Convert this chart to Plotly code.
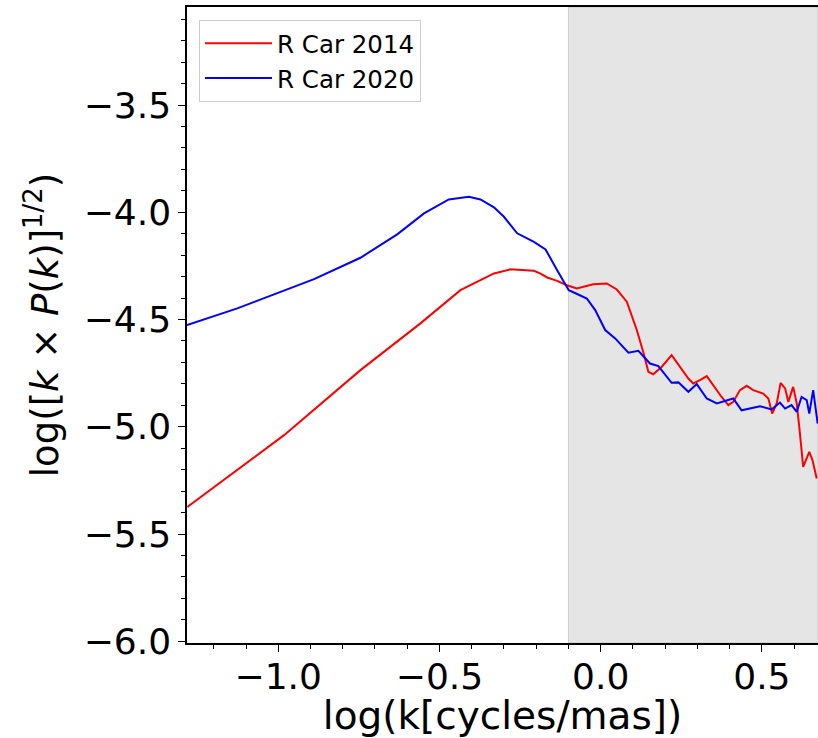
import plotly.graph_objects as go

# R Car 2014 (red)
k2014 = [-1.282, -0.982, -0.745, -0.559, -0.435, -0.331, -0.280, -0.207, -0.188, -0.166,
         -0.135, -0.105, -0.074, -0.023, 0.019, 0.050, 0.081, 0.112, 0.132, 0.148,
         0.163, 0.189, 0.220, 0.246, 0.272, 0.287, 0.308, 0.329, 0.349, 0.375,
         0.396, 0.411, 0.432, 0.453, 0.473, 0.504, 0.520, 0.532, 0.546, 0.558,
         0.572, 0.582, 0.597, 0.608, 0.618, 0.628, 0.647, 0.657, 0.670]
p2014 = [-5.374, -5.039, -4.736, -4.518, -4.363, -4.285, -4.266, -4.273, -4.285, -4.304,
         -4.320, -4.340, -4.355, -4.336, -4.332, -4.360, -4.417, -4.549, -4.651, -4.744,
         -4.755, -4.721, -4.666, -4.721, -4.775, -4.798, -4.783, -4.764, -4.806, -4.861,
         -4.899, -4.884, -4.829, -4.809, -4.829, -4.845, -4.868, -4.938, -4.891, -4.795,
         -4.821, -4.884, -4.814, -4.890, -5.031, -5.187, -5.117, -5.156, -5.241]

# R Car 2020 (blue)
k2020 = [-1.283, -1.127, -0.889, -0.745, -0.631, -0.548, -0.471, -0.409, -0.373, -0.331,
         -0.300, -0.259, -0.207, -0.171, -0.135, -0.099, -0.073, -0.043, -0.017, 0.014,
         0.045, 0.086, 0.117, 0.153, 0.179, 0.220, 0.241, 0.272, 0.298, 0.329,
         0.360, 0.411, 0.437, 0.463, 0.494, 0.530, 0.556, 0.572, 0.592, 0.608,
         0.623, 0.639, 0.647, 0.659, 0.673]
p2020 = [-4.526, -4.448, -4.312, -4.212, -4.103, -4.005, -3.940, -3.928, -3.940, -3.977,
         -4.021, -4.098, -4.138, -4.173, -4.270, -4.363, -4.381, -4.402, -4.456, -4.549,
         -4.588, -4.655, -4.646, -4.705, -4.717, -4.795, -4.793, -4.837, -4.801, -4.868,
         -4.891, -4.868, -4.923, -4.915, -4.904, -4.919, -4.887, -4.915, -4.899, -4.930,
         -4.861, -4.876, -4.938, -4.829, -4.985]

shade_start = -0.1
x_range = [-1.283, 0.674]
y_range = [-6.008, -3.043]

font = "DejaVu Sans"

fig = go.Figure()
fig.add_trace(go.Scatter(x=k2014, y=p2014, mode="lines", name="R Car 2014",
                         line=dict(color="red", width=2)))
fig.add_trace(go.Scatter(x=k2020, y=p2020, mode="lines", name="R Car 2020",
                         line=dict(color="blue", width=2)))

fig.add_shape(type="rect", xref="x", yref="paper", x0=shade_start, x1=x_range[1],
              y0=0, y1=1, fillcolor="rgb(229,229,229)",
              line=dict(color="rgba(128,128,128,0.3)", width=1), layer="below")

axis_common = dict(showgrid=False, zeroline=False, showline=True, linecolor="black",
                   linewidth=1.5, ticks="outside", ticklen=7, tickwidth=1.3,
                   tickcolor="black", tickfont=dict(family=font, size=36, color="black"))

fig.update_xaxes(range=x_range, dtick=0.5, tick0=0, tickformat=".1f", mirror=True,
                 ticklabelstandoff=-6,
                 minor=dict(dtick=0.1, tick0=0, ticks="outside", ticklen=4,
                            tickcolor="black", tickwidth=1),
                 title=dict(text="log(k[cycles/mas])",
                            font=dict(family=font, size=39, color="black"), standoff=2),
                 **axis_common)
fig.update_yaxes(range=y_range, dtick=0.5, tick0=0, tickformat=".1f",
                 minor=dict(dtick=0.1, tick0=0, ticks="outside", ticklen=4,
                            tickcolor="black", tickwidth=1),
                 title=dict(text="log([<i>k</i> × <i>P</i>(<i>k</i>)]<sup>1/2</sup>)",
                            font=dict(family=font, size=37, color="black"), standoff=14),
                 **axis_common)

fig.update_layout(
    width=818, height=738,
    margin=dict(l=187, r=0, t=7, b=95, autoexpand=False),
    plot_bgcolor="white", paper_bgcolor="white",
    showlegend=True,
    legend=dict(x=0.019, y=0.98, xanchor="left", yanchor="top",
                bgcolor="rgba(255,255,255,0.8)", bordercolor="#cccccc", borderwidth=1,
                font=dict(family=font, size=24.5, color="black"), itemwidth=67,
                tracegroupgap=0),
)

fig.write_html("out.html", config={"displayModeBar": False},
               post_script="document.body.style.margin='0';"
                           "document.body.style.overflow='hidden';")
